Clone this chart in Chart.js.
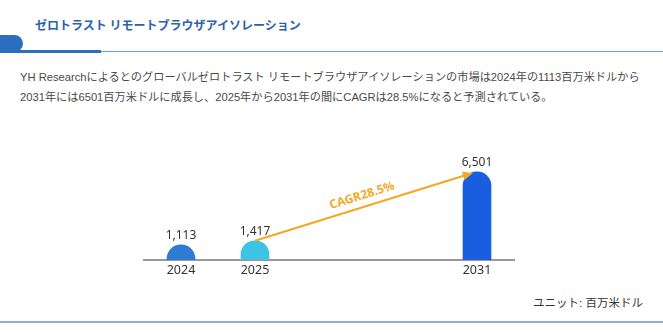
<!DOCTYPE html>
<html lang="ja">
<head>
<meta charset="utf-8">
<script src="https://cdn.jsdelivr.net/npm/chart.js@4/dist/chart.umd.min.js"></script>
<style>
  html, body { margin: 0; padding: 0; background: #fff; }
  body { width: 663px; height: 332px; position: relative; overflow: hidden;
         font-family: "Liberation Sans", "Noto Sans CJK JP", sans-serif; }
  .title { position: absolute; left: 35px; top: 16px; font-size: 12px; font-weight: bold;
           color: #2b62ab; line-height: 18px; white-space: nowrap;
           font-family: "Noto Sans CJK JP", sans-serif; }
  .tab { position: absolute; left: 0; top: 35px; width: 23px; height: 17px;
         background: #2a6ebd; border-radius: 0 9px 9px 0; }
  .rule { position: absolute; left: 0; top: 51px; width: 663px; height: 1px; background: #6f9fd4; }
  .rule-thick { position: absolute; left: 0; top: 50px; width: 101px; height: 3px; background: #2a6ebd; }
  .desc { position: absolute; left: 20px; top: 67px; width: 640px; font-size: 11.2px;
          line-height: 20px; color: #4a4a4a; white-space: nowrap; }
  .unit { position: absolute; left: 533px; top: 294px; font-size: 11.5px; color: #333;
          line-height: 18px; white-space: nowrap; }
  .bottom { position: absolute; left: 0; top: 321px; width: 663px; height: 2px; background: #8fb2dc; }
  #wrap { position: absolute; left: 0; top: 120px; width: 663px; height: 170px; }
</style>
</head>
<body>
<div class="title">ゼロトラスト リモートブラウザアイソレーション</div>
<div class="tab"></div>
<div class="rule"></div>
<div class="rule-thick"></div>
<div class="desc">YH Researchによるとのグローバルゼロトラスト リモートブラウザアイソレーションの市場は2024年の1113百万米ドルから<br>2031年には6501百万米ドルに成長し、2025年から2031年の間にCAGRは28.5%になると予測されている。</div>
<div id="wrap"><canvas id="chart"></canvas></div>
<div class="unit">ユニット: 百万米ドル</div>
<div class="bottom"></div>
<script>
  // categories: two empty slots keep 2031 further right, as in the source
  var YEARS = ['2024', '2025', '', '', '2031'];
  var MARKET = [1113, 1417, null, null, 6501];
  var BAR_COLORS = ['#2e7bd4', '#3fc3e5', null, null, '#1a5ee0'];
  var CAGR_TEXT = 'CAGR28.5%';
  var Y_MAX = 9000;

  var ORANGE = '#f5a623';

  function fmt(v) { return v.toLocaleString('en-US'); }

  // value labels above bars + CAGR arrow from 2025 to 2031
  var overlay = {
    id: 'overlay',
    afterDatasetsDraw: function (chart) {
      var ctx = chart.ctx;
      var bars = chart.getDatasetMeta(0).data;
      ctx.save();
      ctx.font = '12px "Noto Sans", sans-serif';
      ctx.fillStyle = '#333';
      ctx.textAlign = 'center';
      ctx.textBaseline = 'bottom';
      MARKET.forEach(function (v, i) {
        if (v == null) return;
        ctx.fillText(fmt(v), bars[i].x, bars[i].y - 3);
      });

      var a = bars[1], b = bars[4];
      var x1 = a.x, y1 = a.y, x2 = b.x - 4, y2 = b.y + 1;
      var ang = Math.atan2(y2 - y1, x2 - x1);
      ctx.strokeStyle = ORANGE;
      ctx.fillStyle = ORANGE;
      ctx.lineWidth = 2;
      ctx.beginPath();
      ctx.moveTo(x1, y1);
      ctx.lineTo(x2 - 8 * Math.cos(ang), y2 - 8 * Math.sin(ang));
      ctx.stroke();
      ctx.beginPath();
      ctx.moveTo(x2, y2);
      ctx.lineTo(x2 - 11 * Math.cos(ang - 0.4), y2 - 11 * Math.sin(ang - 0.4));
      ctx.lineTo(x2 - 11 * Math.cos(ang + 0.4), y2 - 11 * Math.sin(ang + 0.4));
      ctx.closePath();
      ctx.fill();

      var mx = (x1 + x2) / 2, my = (y1 + y2) / 2;
      ctx.translate(mx - 2, my - 11);
      ctx.rotate(ang);
      ctx.font = 'bold 12px "Open Sans", "Noto Sans", sans-serif';
      ctx.textBaseline = 'middle';
      ctx.fillText(CAGR_TEXT, 0, 0);
      ctx.restore();
    }
  };

  new Chart(document.getElementById('chart'), {
    type: 'bar',
    data: {
      labels: YEARS,
      datasets: [{
        data: MARKET,
        backgroundColor: BAR_COLORS,
        barThickness: 28,
        // start the bar below the axis so the rounded top stays a full dome; clipped at the axis
        base: -2500,
        clip: 0,
        borderRadius: { topLeft: 14, topRight: 14, bottomLeft: 0, bottomRight: 0 },
        borderSkipped: false
      }]
    },
    plugins: [overlay],
    options: {
      responsive: true, maintainAspectRatio: false, animation: false,
      layout: { padding: { left: 144, right: 149, top: 18, bottom: 0 } },
      plugins: { legend: { display: false }, tooltip: { enabled: false } },
      scales: {
        x: {
          grid: { display: false, drawTicks: false },
          border: { display: true, color: '#999', width: 2 },
          ticks: { color: '#333', font: { size: 12.5, family: '"Noto Sans", sans-serif' }, padding: 3, maxRotation: 0 },
          afterFit: function (s) { s.height = 30; }
        },
        y: { display: false, min: 0, max: Y_MAX }
      }
    }
  });
</script>
</body>
</html>
